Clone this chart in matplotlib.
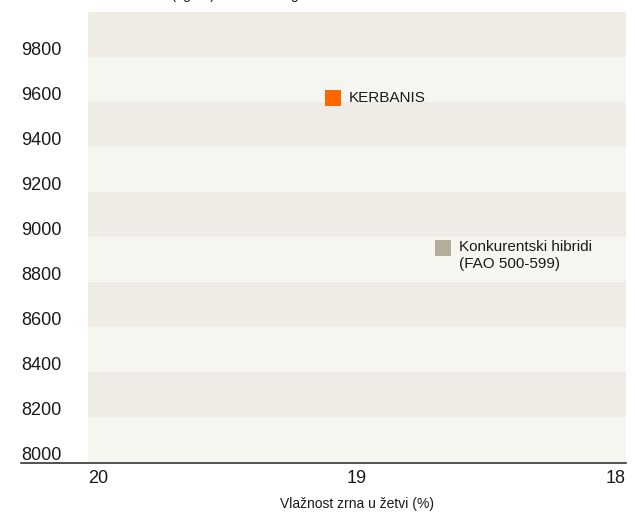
import matplotlib.pyplot as plt
from matplotlib import transforms
from matplotlib.lines import Line2D

plt.rcParams["font.family"] = ["Liberation Sans", "DejaVu Sans"]

# data
hybrids = ["KERBANIS", "Konkurentski hibridi\n(FAO 500-599)"]
moisture = [19.09, 18.68]
yield_kg = [9620, 8950]
point_colors = ["#ff6600", "#b3ae9c"]

x_ticks = [20, 19, 18]
y_ticks = [8000, 8200, 8400, 8600, 8800, 9000, 9200, 9400, 9600, 9800]

BAND_DARK = "#efece5"
BAND_LIGHT = "#f6f6f0"

W, H = 635, 512
fig = plt.figure(figsize=(W / 100, H / 100), dpi=100)
fig.patch.set_facecolor("white")
ax = fig.add_axes([88 / W, 50 / H, (626 - 88) / W, (500 - 50) / H])
ax.set_xlim(20, 18)
ax.set_ylim(8000, 10000)
ax.set_facecolor(BAND_LIGHT)
for s in ax.spines.values():
    s.set_visible(False)

# alternating bands
for i, y0 in enumerate(y_ticks):
    ax.axhspan(y0, y0 + 200, color=BAND_DARK if i % 2 == 1 else BAND_LIGHT,
               lw=0, zorder=0)

# points
for name, x, y, c in zip(hybrids, moisture, yield_kg, point_colors):
    ax.plot(x, y, marker="s", ms=11.5, mew=0, color=c, ls="none", zorder=3)
    two_lines = "\n" in name
    ax.annotate(name, (x, y), xytext=(11.5, 6 if two_lines else 0),
                textcoords="offset points", ha="left",
                va="top" if two_lines else "center",
                fontsize=11, color="#1a1a1a", linespacing=1.25)

# x ticks
ax.set_xticks(x_ticks)
ax.set_xticklabels([str(v) for v in x_ticks])
ax.tick_params(axis="x", length=0, pad=6, labelsize=13, colors="#1a1a1a")
xl = ax.get_xticklabels()
xl[0].set_horizontalalignment("left")
xl[-1].set_horizontalalignment("right")
ax.set_yticks([])
ax.set_xlabel("Vlažnost zrna u žetvi (%)", fontsize=10, labelpad=7,
              color="#1a1a1a")

# y labels sit above their level, left aligned
trans = transforms.blended_transform_factory(fig.transFigure, ax.transData)
trans = transforms.offset_copy(trans, fig=fig, x=0, y=2, units="dots")
for v in y_ticks:
    ax.text(21 / W, v, str(v), transform=trans, ha="left", va="baseline",
            fontsize=13, color="#1a1a1a", clip_on=False)

# baseline under the chart
fig.add_artist(Line2D([21 / W, 626 / W], [49 / H, 49 / H], color="#222222",
                      lw=1.1, transform=fig.transFigure))

# title, cut by the top edge: only the descenders show
fig.text(97 / W, (H + 1.5) / H, "Prinos zrna (kg/ha) – rezultati ogleda",
         ha="left", va="baseline", fontsize=10, color="#1a1a1a")

fig.savefig("out.png", dpi=100, facecolor="white")
